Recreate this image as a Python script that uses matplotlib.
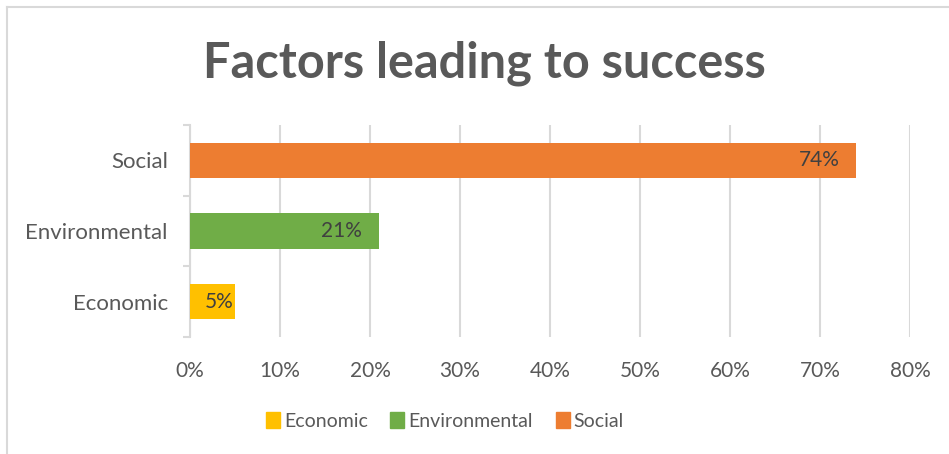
import matplotlib
matplotlib.use("Agg")
import matplotlib.pyplot as plt
from matplotlib.lines import Line2D
from matplotlib.patches import Patch

# chart data
categories = ["Economic", "Environmental", "Social"]
shares = [5, 21, 74]
bar_colors = ["#FFC000", "#70AD47", "#ED7D31"]
x_ticks = [0, 10, 20, 30, 40, 50, 60, 70, 80]

TEXT = "#595959"
GRID = "#D9D9D9"

plt.rcParams["font.family"] = ["Lato", "DejaVu Sans"]

W, H = 949, 454
fig = plt.figure(figsize=(W / 100, H / 100), dpi=100)

# light frame around the chart (top and left edge)
fig.add_artist(Line2D([7 / W, 1], [1 - 7 / H, 1 - 7 / H], color=GRID, lw=1.5))
fig.add_artist(Line2D([7 / W, 7 / W], [0, 1 - 7 / H], color=GRID, lw=1.5))

fig.text(484 / W, 1 - 78 / H, "Factors leading to success", ha="center",
         va="baseline", fontsize=35, fontweight="bold", color=TEXT)

ax = fig.add_axes([190 / W, 1 - 337 / H, 720 / W, 212 / H])
ypos = list(range(len(categories)))
ax.barh(ypos, shares, height=0.5, color=bar_colors, zorder=3)

# value labels at the inner end of each bar
for y, v in zip(ypos, shares):
    off = -12 if v > 10 else -1
    ax.annotate(f"{v}%", xy=(v, y), xytext=(off, 0), textcoords="offset points",
                ha="right", va="center", fontsize=15, color="#404040", zorder=4)

ax.set_xlim(0, 80)
ax.set_ylim(-0.5, len(categories) - 0.5)
ax.set_xticks(x_ticks)
ax.set_xticklabels([f"{t}%" for t in x_ticks])
ax.set_yticks(ypos)
ax.set_yticklabels(categories)
ax.set_yticks([i - 0.5 for i in range(len(categories) + 1)], minor=True)

ax.grid(axis="x", color=GRID, lw=1.5, zorder=0)
ax.tick_params(axis="x", length=0, pad=17, labelsize=15, labelcolor=TEXT)
ax.tick_params(axis="y", which="major", length=0, pad=16, labelsize=16, labelcolor=TEXT)
ax.tick_params(axis="y", which="minor", length=5, width=1.5, color=GRID)
for side in ["top", "right", "bottom"]:
    ax.spines[side].set_visible(False)
ax.spines["left"].set_color(GRID)
ax.spines["left"].set_linewidth(1.5)

handles = [Patch(color=c, label=n) for c, n in zip(bar_colors, categories)]
fig.legend(handles=handles, loc="center", bbox_to_anchor=(445 / W, 1 - 421 / H),
           ncol=3, frameon=False, fontsize=14, labelcolor=TEXT,
           handlelength=0.72, handleheight=0.85, handletextpad=0.22,
           columnspacing=1.15)

fig.savefig("out.png", dpi=100)
